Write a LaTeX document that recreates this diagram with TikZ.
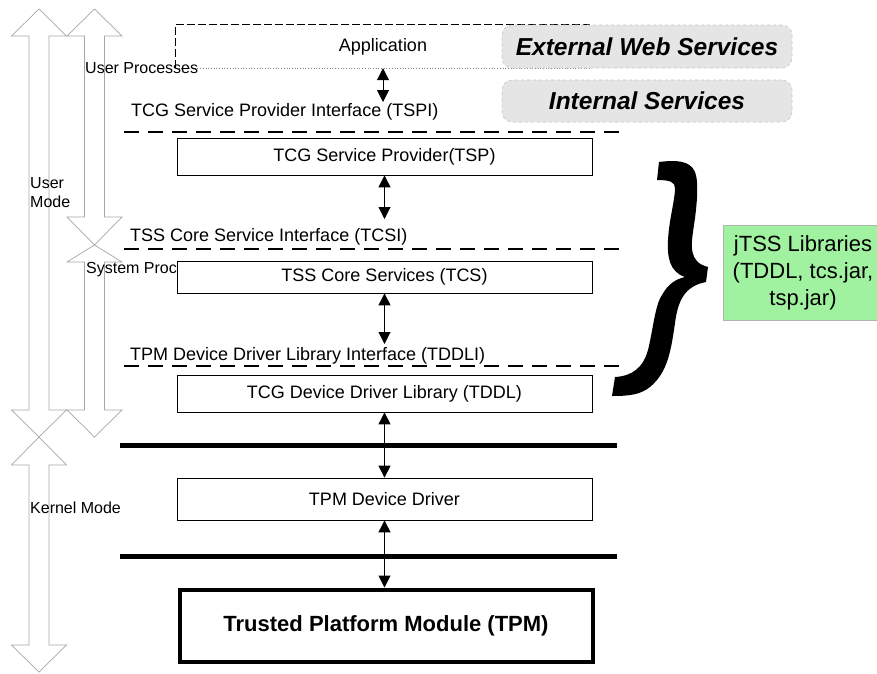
\documentclass[tikz,border=0pt]{standalone}
\usepackage{fontspec}
\setmainfont{Liberation Sans}
\usepackage{tikz}
\usetikzlibrary{arrows.meta}

\definecolor{verdejtss}{RGB}{160,242,160}

\begin{document}
\begin{tikzpicture}[x=1pt,y=-1pt,
    camada/.style={draw,line width=0.8pt,minimum width=415pt,inner sep=0pt,font=\fontsize{18}{20}\selectfont},
    servico/.style={draw=gray!45,dashed,line width=0.6pt,fill=gray!20,rounded corners=10pt,minimum width=290pt,inner sep=0pt,font=\fontsize{24.5}{26}\selectfont\bfseries\itshape},
    rotulo/.style={anchor=west,inner sep=0pt,font=\fontsize{18}{20}\selectfont},
    modo/.style={anchor=west,inner sep=0pt,align=left,font=\fontsize{16}{19}\selectfont},
    faixa/.style={draw=gray!70,line width=0.7pt},
    limite/.style={line width=2.2pt,dash pattern=on 15pt off 9pt},
    seta/.style={{Triangle[length=12pt,width=12pt]}-{Triangle[length=12pt,width=12pt]},line width=1pt}]
    \useasboundingbox (0,0) rectangle (877,673);

    % Setas largas dos modos
    \foreach \c/\a/\b/\d/\e in {39/9/36/410/437, 94.5/9/36/217/245, 94.5/245/262/410/437, 39/437/465/645/672} {
        \draw[faixa] (\c,\a) -- (\c+27.5,\b) -- (\c+10,\b) -- (\c+10,\d) -- (\c+27.5,\d) -- (\c,\e)
            -- (\c-27.5,\d) -- (\c-10,\d) -- (\c-10,\b) -- (\c-27.5,\b) -- cycle;
    }

    % Aplicacao
    \node[inner sep=0pt,minimum width=414pt,minimum height=43pt,font=\fontsize{18}{20}\selectfont] (app) at (383,46.5) {Application};
    \draw[line width=0.7pt,dash pattern=on 8pt off 3pt] (app.south west) |- (app.north east);
    \draw[gray,dotted,line width=0.7pt] (app.south west) -- (app.south east);

    % Rotulos dos modos
    \node[modo] (userproc) at (85,68) {User Processes};
    \node[modo] (usermode) at (30,192.5) {User\\Mode};
    \node[modo] (sysproc) at (86,270) {System Proc};
    \node[modo] (kernel) at (30,508) {Kernel Mode};

    % Servicos
    \node[servico,minimum height=43pt] (externo) at (647,46.5) {External Web Services};
    \node[servico,minimum height=42pt] (interno) at (647,101) {Internal Services};

    % Interfaces
    \node[rotulo] (tspi) at (131,112) {TCG Service Provider Interface (TSPI)};
    \node[rotulo] (tcsi) at (130,237) {TSS Core Service Interface (TCSI)};
    \node[rotulo] (tddli) at (130,356) {TPM Device Driver Library Interface (TDDLI)};
    \foreach \y in {132,249,366} {
        \draw[limite] (124,\y) -- (620,\y);
    }
    \foreach \y in {445,556} {
        \draw[line width=5pt] (120,\y) -- (617,\y);
    }

    % Camadas
    \node[camada,minimum height=37pt] (tsp) at (384.5,156.5) {TCG Service Provider(TSP)};
    \node[camada,minimum height=32pt] (tcs) at (384.5,277) {TSS Core Services (TCS)};
    \node[camada,minimum height=37pt] (tddl) at (384.5,393.5) {TCG Device Driver Library (TDDL)};
    \node[camada,minimum height=42pt] (driver) at (384.5,499) {TPM Device Driver};
    \node[draw,line width=4pt,minimum width=413pt,minimum height=72pt,inner sep=0pt,font=\fontsize{22}{24}\selectfont\bfseries] (tpm) at (386,625.5) {Trusted Platform Module (TPM)};

    % Setas
    \coordinate (fimtspi) at (383,102);
    \coordinate (fimtcsi) at (384.5,219);
    \coordinate (fimtddli) at (384.5,344);
    \draw[seta] (app.south) -- (fimtspi);
    \draw[seta] (tsp.south) -- (fimtcsi);
    \draw[seta] (tcs.south) -- (fimtddli);
    \draw[seta] (tddl) -- (driver);
    \draw[seta] (driver.south) -- (driver.south |- tpm.north);

    % Chave
    \fill (659,162) .. controls (675,160) and (690,160) .. (695,172)
        .. controls (699,182) and (697,205) .. (694,225)
        .. controls (691,245) and (688,262) .. (708,267)
        -- (706,282)
        .. controls (685,286) and (678,300) .. (675,323)
        .. controls (671,350) and (668,372) .. (650,387)
        .. controls (640,395) and (628,396) .. (612,396)
        -- (615,377)
        .. controls (632,376) and (643,368) .. (648,350)
        .. controls (653,330) and (655,305) .. (662,295)
        .. controls (668,284) and (676,279) .. (685,277)
        .. controls (670,272) and (667,258) .. (668,240)
        .. controls (669,220) and (675,200) .. (675,188)
        .. controls (675,182) and (670,180) .. (657,180)
        -- cycle;

    % Bibliotecas
    \node[draw=gray!60,fill=verdejtss,line width=0.8pt,minimum width=160pt,minimum height=95pt,inner sep=0pt,align=center,font=\fontsize{22}{27}\selectfont] (jtss) at (803,273) {jTSS Libraries\\(TDDL, tcs.jar,\\tsp.jar)};
\end{tikzpicture}
\end{document}
